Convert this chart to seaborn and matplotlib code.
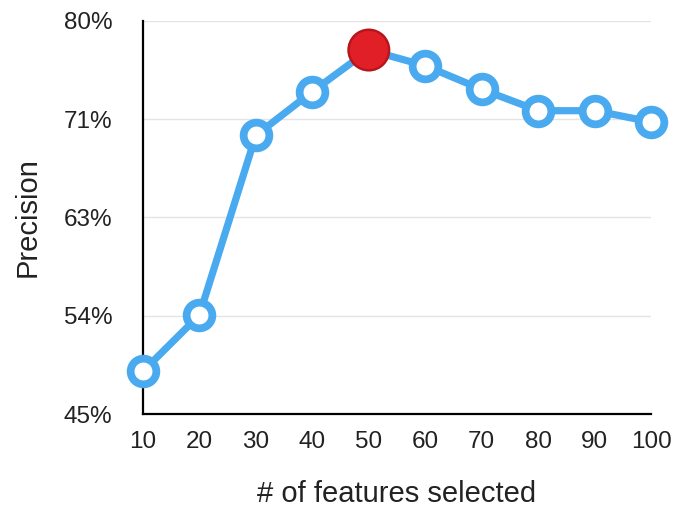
import matplotlib
matplotlib.use("Agg")
import matplotlib.pyplot as plt
import seaborn as sns
import pandas as pd

# Precision vs. number of selected features
features = [10, 20, 30, 40, 50, 60, 70, 80, 90, 100]
precision = [48.8, 53.8, 69.8, 73.7, 77.4, 76.0, 73.9, 72.0, 72.0, 71.0]
best_idx = 4

y_ticks = [45, 53.75, 62.5, 71.25, 80]
y_tick_labels = ["45%", "54%", "63%", "71%", "80%"]
x_ticks = features

df = pd.DataFrame({"features": features, "precision": precision})

sns.set_theme(style="white")
plt.rcParams["font.family"] = ["Liberation Sans", "DejaVu Sans"]

fig = plt.figure(figsize=(6.77, 5.08), dpi=100)
ax = fig.add_axes([0.211, 0.185, 0.751, 0.774])

blue = "#4aaaf0"
for yv in y_ticks[1:]:
    ax.axhline(yv, color="#e4e4e4", linewidth=1.0, zorder=0)

sns.lineplot(data=df, x="features", y="precision", ax=ax, color=blue,
             linewidth=5.2, marker="o", markersize=18.5,
             markerfacecolor="white", markeredgecolor=blue,
             markeredgewidth=5.6, clip_on=False, zorder=3)

# highlighted best point, drawn as two stacked discs for a shaded look
best = df.iloc[[best_idx]]
sns.scatterplot(data=best, x="features", y="precision", ax=ax, s=960,
                color="#b8141c", edgecolor="none", clip_on=False, zorder=4)
sns.scatterplot(data=best, x="features", y="precision", ax=ax, s=760,
                color="#e01f26", edgecolor="none", clip_on=False, zorder=5)

ax.set_xlim(10, 100)
ax.set_ylim(45, 80)
ax.set_xticks(x_ticks)
ax.set_xticklabels([str(v) for v in x_ticks])
ax.set_yticks(y_ticks)
ax.set_yticklabels(y_tick_labels)
ax.tick_params(axis="both", length=0, labelsize=17.5, colors="#222222")
ax.tick_params(axis="y", pad=22)
ax.tick_params(axis="x", pad=12)

ax.set_xlabel("# of features selected", fontsize=21, color="#222222", labelpad=20)
ax.set_ylabel("Precision", fontsize=21, color="#222222", labelpad=16)

for side in ["top", "right"]:
    ax.spines[side].set_visible(False)
for side in ["left", "bottom"]:
    ax.spines[side].set_color("black")
    ax.spines[side].set_linewidth(1.6)

fig.savefig("out.png", dpi=100)
